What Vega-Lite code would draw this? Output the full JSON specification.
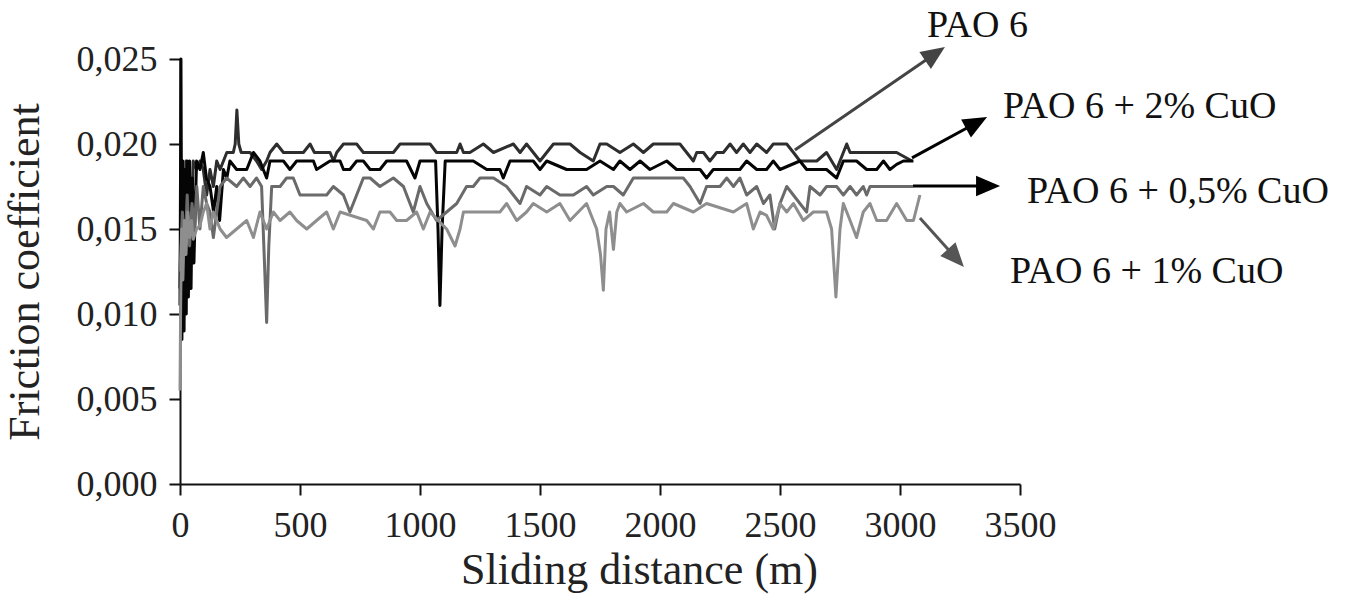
{
"$schema":"https://vega.github.io/schema/vega-lite/v6.json",
"width":840,"height":425,
"autosize":{"type":"none"},
"padding":{"left":180,"top":59,"right":330,"bottom":123},
"background":"white",
"config":{"view":{"stroke":null},"font":"Liberation Serif",
 "axis":{"grid":false,"labelFont":"Liberation Serif","titleFont":"Liberation Serif","labelFontSize":36,"titleFontSize":44,"titleFontWeight":"normal","labelColor":"#222","titleColor":"#222","domainColor":"#111","tickColor":"#111","domainWidth":2,"tickWidth":2,"tickSize":11,"labelFlush":false,"labelOverlap":false}},
"datasets":{
"series":[
{"s":"PAO 6","d":0,"f":0.0115},{"s":"PAO 6","d":5,"f":0.0175},{"s":"PAO 6","d":10,"f":0.011},{"s":"PAO 6","d":15,"f":0.0185},{"s":"PAO 6","d":20,"f":0.012},{"s":"PAO 6","d":25,"f":0.019},{"s":"PAO 6","d":30,"f":0.0125},{"s":"PAO 6","d":38,"f":0.0185},{"s":"PAO 6","d":45,"f":0.014},{"s":"PAO 6","d":55,"f":0.019},{"s":"PAO 6","d":69,"f":0.0185},{"s":"PAO 6","d":83,"f":0.019},{"s":"PAO 6","d":97,"f":0.0185},{"s":"PAO 6","d":111,"f":0.017},{"s":"PAO 6","d":125,"f":0.0185},{"s":"PAO 6","d":139,"f":0.0175},{"s":"PAO 6","d":153,"f":0.019},{"s":"PAO 6","d":167,"f":0.0185},{"s":"PAO 6","d":181,"f":0.019},{"s":"PAO 6","d":195,"f":0.0195},{"s":"PAO 6","d":222,"f":0.0195},{"s":"PAO 6","d":230,"f":0.02},{"s":"PAO 6","d":237,"f":0.022},{"s":"PAO 6","d":245,"f":0.02},{"s":"PAO 6","d":255,"f":0.0195},{"s":"PAO 6","d":292,"f":0.0195},{"s":"PAO 6","d":319,"f":0.019},{"s":"PAO 6","d":340,"f":0.0185},{"s":"PAO 6","d":361,"f":0.019},{"s":"PAO 6","d":375,"f":0.0195},{"s":"PAO 6","d":403,"f":0.02},{"s":"PAO 6","d":431,"f":0.0195},{"s":"PAO 6","d":514,"f":0.0195},{"s":"PAO 6","d":542,"f":0.02},{"s":"PAO 6","d":560,"f":0.0195},{"s":"PAO 6","d":625,"f":0.0195},{"s":"PAO 6","d":640,"f":0.019},{"s":"PAO 6","d":653,"f":0.0195},{"s":"PAO 6","d":681,"f":0.02},{"s":"PAO 6","d":736,"f":0.02},{"s":"PAO 6","d":764,"f":0.0195},{"s":"PAO 6","d":889,"f":0.0195},{"s":"PAO 6","d":917,"f":0.02},{"s":"PAO 6","d":1042,"f":0.02},{"s":"PAO 6","d":1069,"f":0.0195},{"s":"PAO 6","d":1153,"f":0.0195},{"s":"PAO 6","d":1167,"f":0.02},{"s":"PAO 6","d":1181,"f":0.0195},{"s":"PAO 6","d":1208,"f":0.0195},{"s":"PAO 6","d":1264,"f":0.02},{"s":"PAO 6","d":1306,"f":0.0195},{"s":"PAO 6","d":1389,"f":0.02},{"s":"PAO 6","d":1417,"f":0.0195},{"s":"PAO 6","d":1444,"f":0.02},{"s":"PAO 6","d":1472,"f":0.0195},{"s":"PAO 6","d":1500,"f":0.019},{"s":"PAO 6","d":1556,"f":0.02},{"s":"PAO 6","d":1625,"f":0.02},{"s":"PAO 6","d":1667,"f":0.0195},{"s":"PAO 6","d":1722,"f":0.019},{"s":"PAO 6","d":1750,"f":0.02},{"s":"PAO 6","d":1778,"f":0.02},{"s":"PAO 6","d":1833,"f":0.0195},{"s":"PAO 6","d":1889,"f":0.02},{"s":"PAO 6","d":1931,"f":0.0195},{"s":"PAO 6","d":1972,"f":0.02},{"s":"PAO 6","d":2083,"f":0.02},{"s":"PAO 6","d":2111,"f":0.0195},{"s":"PAO 6","d":2139,"f":0.019},{"s":"PAO 6","d":2153,"f":0.0195},{"s":"PAO 6","d":2181,"f":0.0195},{"s":"PAO 6","d":2208,"f":0.019},{"s":"PAO 6","d":2236,"f":0.0195},{"s":"PAO 6","d":2264,"f":0.0195},{"s":"PAO 6","d":2292,"f":0.02},{"s":"PAO 6","d":2319,"f":0.0195},{"s":"PAO 6","d":2347,"f":0.02},{"s":"PAO 6","d":2375,"f":0.0195},{"s":"PAO 6","d":2403,"f":0.02},{"s":"PAO 6","d":2444,"f":0.0195},{"s":"PAO 6","d":2472,"f":0.02},{"s":"PAO 6","d":2528,"f":0.02},{"s":"PAO 6","d":2556,"f":0.0195},{"s":"PAO 6","d":2583,"f":0.019},{"s":"PAO 6","d":2653,"f":0.019},{"s":"PAO 6","d":2694,"f":0.0195},{"s":"PAO 6","d":2736,"f":0.0185},{"s":"PAO 6","d":2778,"f":0.02},{"s":"PAO 6","d":2792,"f":0.0195},{"s":"PAO 6","d":2986,"f":0.0195},{"s":"PAO 6","d":3050,"f":0.019},
{"s":"PAO 6 + 2% CuO","d":0,"f":0.0105},{"s":"PAO 6 + 2% CuO","d":4,"f":0.025},{"s":"PAO 6 + 2% CuO","d":8,"f":0.0085},{"s":"PAO 6 + 2% CuO","d":12,"f":0.019},{"s":"PAO 6 + 2% CuO","d":17,"f":0.009},{"s":"PAO 6 + 2% CuO","d":21,"f":0.0185},{"s":"PAO 6 + 2% CuO","d":26,"f":0.01},{"s":"PAO 6 + 2% CuO","d":30,"f":0.019},{"s":"PAO 6 + 2% CuO","d":35,"f":0.011},{"s":"PAO 6 + 2% CuO","d":40,"f":0.019},{"s":"PAO 6 + 2% CuO","d":46,"f":0.0115},{"s":"PAO 6 + 2% CuO","d":52,"f":0.018},{"s":"PAO 6 + 2% CuO","d":58,"f":0.013},{"s":"PAO 6 + 2% CuO","d":69,"f":0.019},{"s":"PAO 6 + 2% CuO","d":83,"f":0.0185},{"s":"PAO 6 + 2% CuO","d":97,"f":0.0195},{"s":"PAO 6 + 2% CuO","d":110,"f":0.018},{"s":"PAO 6 + 2% CuO","d":125,"f":0.0175},{"s":"PAO 6 + 2% CuO","d":140,"f":0.016},{"s":"PAO 6 + 2% CuO","d":153,"f":0.0175},{"s":"PAO 6 + 2% CuO","d":165,"f":0.0155},{"s":"PAO 6 + 2% CuO","d":181,"f":0.0185},{"s":"PAO 6 + 2% CuO","d":195,"f":0.018},{"s":"PAO 6 + 2% CuO","d":208,"f":0.019},{"s":"PAO 6 + 2% CuO","d":236,"f":0.0185},{"s":"PAO 6 + 2% CuO","d":278,"f":0.0185},{"s":"PAO 6 + 2% CuO","d":306,"f":0.0195},{"s":"PAO 6 + 2% CuO","d":333,"f":0.019},{"s":"PAO 6 + 2% CuO","d":361,"f":0.018},{"s":"PAO 6 + 2% CuO","d":375,"f":0.019},{"s":"PAO 6 + 2% CuO","d":431,"f":0.019},{"s":"PAO 6 + 2% CuO","d":458,"f":0.0185},{"s":"PAO 6 + 2% CuO","d":486,"f":0.019},{"s":"PAO 6 + 2% CuO","d":556,"f":0.019},{"s":"PAO 6 + 2% CuO","d":569,"f":0.0185},{"s":"PAO 6 + 2% CuO","d":625,"f":0.019},{"s":"PAO 6 + 2% CuO","d":667,"f":0.019},{"s":"PAO 6 + 2% CuO","d":681,"f":0.0185},{"s":"PAO 6 + 2% CuO","d":708,"f":0.0185},{"s":"PAO 6 + 2% CuO","d":736,"f":0.019},{"s":"PAO 6 + 2% CuO","d":764,"f":0.019},{"s":"PAO 6 + 2% CuO","d":792,"f":0.0185},{"s":"PAO 6 + 2% CuO","d":833,"f":0.0185},{"s":"PAO 6 + 2% CuO","d":861,"f":0.019},{"s":"PAO 6 + 2% CuO","d":944,"f":0.019},{"s":"PAO 6 + 2% CuO","d":979,"f":0.018},{"s":"PAO 6 + 2% CuO","d":1000,"f":0.019},{"s":"PAO 6 + 2% CuO","d":1065,"f":0.019},{"s":"PAO 6 + 2% CuO","d":1075,"f":0.015},{"s":"PAO 6 + 2% CuO","d":1083,"f":0.0105},{"s":"PAO 6 + 2% CuO","d":1092,"f":0.015},{"s":"PAO 6 + 2% CuO","d":1105,"f":0.019},{"s":"PAO 6 + 2% CuO","d":1222,"f":0.019},{"s":"PAO 6 + 2% CuO","d":1278,"f":0.0185},{"s":"PAO 6 + 2% CuO","d":1333,"f":0.0185},{"s":"PAO 6 + 2% CuO","d":1347,"f":0.018},{"s":"PAO 6 + 2% CuO","d":1375,"f":0.019},{"s":"PAO 6 + 2% CuO","d":1472,"f":0.019},{"s":"PAO 6 + 2% CuO","d":1500,"f":0.0185},{"s":"PAO 6 + 2% CuO","d":1528,"f":0.019},{"s":"PAO 6 + 2% CuO","d":1611,"f":0.0185},{"s":"PAO 6 + 2% CuO","d":1694,"f":0.0185},{"s":"PAO 6 + 2% CuO","d":1750,"f":0.019},{"s":"PAO 6 + 2% CuO","d":1806,"f":0.0185},{"s":"PAO 6 + 2% CuO","d":1833,"f":0.019},{"s":"PAO 6 + 2% CuO","d":1875,"f":0.0185},{"s":"PAO 6 + 2% CuO","d":1917,"f":0.019},{"s":"PAO 6 + 2% CuO","d":1958,"f":0.0185},{"s":"PAO 6 + 2% CuO","d":2028,"f":0.019},{"s":"PAO 6 + 2% CuO","d":2069,"f":0.0185},{"s":"PAO 6 + 2% CuO","d":2167,"f":0.0185},{"s":"PAO 6 + 2% CuO","d":2194,"f":0.018},{"s":"PAO 6 + 2% CuO","d":2222,"f":0.0185},{"s":"PAO 6 + 2% CuO","d":2333,"f":0.0185},{"s":"PAO 6 + 2% CuO","d":2361,"f":0.019},{"s":"PAO 6 + 2% CuO","d":2403,"f":0.0185},{"s":"PAO 6 + 2% CuO","d":2444,"f":0.0185},{"s":"PAO 6 + 2% CuO","d":2472,"f":0.019},{"s":"PAO 6 + 2% CuO","d":2500,"f":0.0185},{"s":"PAO 6 + 2% CuO","d":2583,"f":0.019},{"s":"PAO 6 + 2% CuO","d":2611,"f":0.0185},{"s":"PAO 6 + 2% CuO","d":2694,"f":0.0185},{"s":"PAO 6 + 2% CuO","d":2736,"f":0.018},{"s":"PAO 6 + 2% CuO","d":2764,"f":0.019},{"s":"PAO 6 + 2% CuO","d":2819,"f":0.019},{"s":"PAO 6 + 2% CuO","d":2861,"f":0.0185},{"s":"PAO 6 + 2% CuO","d":2903,"f":0.0185},{"s":"PAO 6 + 2% CuO","d":2931,"f":0.019},{"s":"PAO 6 + 2% CuO","d":2958,"f":0.0185},{"s":"PAO 6 + 2% CuO","d":2986,"f":0.0188},{"s":"PAO 6 + 2% CuO","d":3014,"f":0.019},{"s":"PAO 6 + 2% CuO","d":3056,"f":0.019},
{"s":"PAO 6 + 0,5% CuO","d":0,"f":0.0125},{"s":"PAO 6 + 0,5% CuO","d":10,"f":0.016},{"s":"PAO 6 + 0,5% CuO","d":20,"f":0.0135},{"s":"PAO 6 + 0,5% CuO","d":30,"f":0.017},{"s":"PAO 6 + 0,5% CuO","d":40,"f":0.014},{"s":"PAO 6 + 0,5% CuO","d":50,"f":0.0165},{"s":"PAO 6 + 0,5% CuO","d":60,"f":0.015},{"s":"PAO 6 + 0,5% CuO","d":70,"f":0.0175},{"s":"PAO 6 + 0,5% CuO","d":83,"f":0.015},{"s":"PAO 6 + 0,5% CuO","d":97,"f":0.0175},{"s":"PAO 6 + 0,5% CuO","d":111,"f":0.0165},{"s":"PAO 6 + 0,5% CuO","d":125,"f":0.016},{"s":"PAO 6 + 0,5% CuO","d":139,"f":0.0145},{"s":"PAO 6 + 0,5% CuO","d":153,"f":0.016},{"s":"PAO 6 + 0,5% CuO","d":167,"f":0.0175},{"s":"PAO 6 + 0,5% CuO","d":194,"f":0.018},{"s":"PAO 6 + 0,5% CuO","d":236,"f":0.0175},{"s":"PAO 6 + 0,5% CuO","d":264,"f":0.018},{"s":"PAO 6 + 0,5% CuO","d":292,"f":0.0175},{"s":"PAO 6 + 0,5% CuO","d":319,"f":0.018},{"s":"PAO 6 + 0,5% CuO","d":340,"f":0.0175},{"s":"PAO 6 + 0,5% CuO","d":352,"f":0.013},{"s":"PAO 6 + 0,5% CuO","d":361,"f":0.0095},{"s":"PAO 6 + 0,5% CuO","d":370,"f":0.014},{"s":"PAO 6 + 0,5% CuO","d":382,"f":0.0175},{"s":"PAO 6 + 0,5% CuO","d":417,"f":0.0175},{"s":"PAO 6 + 0,5% CuO","d":444,"f":0.018},{"s":"PAO 6 + 0,5% CuO","d":472,"f":0.018},{"s":"PAO 6 + 0,5% CuO","d":500,"f":0.017},{"s":"PAO 6 + 0,5% CuO","d":611,"f":0.017},{"s":"PAO 6 + 0,5% CuO","d":639,"f":0.0175},{"s":"PAO 6 + 0,5% CuO","d":681,"f":0.017},{"s":"PAO 6 + 0,5% CuO","d":708,"f":0.016},{"s":"PAO 6 + 0,5% CuO","d":736,"f":0.017},{"s":"PAO 6 + 0,5% CuO","d":764,"f":0.018},{"s":"PAO 6 + 0,5% CuO","d":792,"f":0.018},{"s":"PAO 6 + 0,5% CuO","d":833,"f":0.0175},{"s":"PAO 6 + 0,5% CuO","d":889,"f":0.018},{"s":"PAO 6 + 0,5% CuO","d":931,"f":0.0175},{"s":"PAO 6 + 0,5% CuO","d":972,"f":0.016},{"s":"PAO 6 + 0,5% CuO","d":1000,"f":0.0175},{"s":"PAO 6 + 0,5% CuO","d":1028,"f":0.0165},{"s":"PAO 6 + 0,5% CuO","d":1069,"f":0.0155},{"s":"PAO 6 + 0,5% CuO","d":1111,"f":0.016},{"s":"PAO 6 + 0,5% CuO","d":1153,"f":0.0165},{"s":"PAO 6 + 0,5% CuO","d":1194,"f":0.0175},{"s":"PAO 6 + 0,5% CuO","d":1222,"f":0.0175},{"s":"PAO 6 + 0,5% CuO","d":1250,"f":0.018},{"s":"PAO 6 + 0,5% CuO","d":1306,"f":0.018},{"s":"PAO 6 + 0,5% CuO","d":1361,"f":0.0175},{"s":"PAO 6 + 0,5% CuO","d":1417,"f":0.0165},{"s":"PAO 6 + 0,5% CuO","d":1444,"f":0.0175},{"s":"PAO 6 + 0,5% CuO","d":1500,"f":0.017},{"s":"PAO 6 + 0,5% CuO","d":1528,"f":0.0175},{"s":"PAO 6 + 0,5% CuO","d":1583,"f":0.017},{"s":"PAO 6 + 0,5% CuO","d":1639,"f":0.017},{"s":"PAO 6 + 0,5% CuO","d":1694,"f":0.0175},{"s":"PAO 6 + 0,5% CuO","d":1722,"f":0.017},{"s":"PAO 6 + 0,5% CuO","d":1778,"f":0.0175},{"s":"PAO 6 + 0,5% CuO","d":1806,"f":0.0175},{"s":"PAO 6 + 0,5% CuO","d":1847,"f":0.017},{"s":"PAO 6 + 0,5% CuO","d":1889,"f":0.018},{"s":"PAO 6 + 0,5% CuO","d":2097,"f":0.018},{"s":"PAO 6 + 0,5% CuO","d":2125,"f":0.0175},{"s":"PAO 6 + 0,5% CuO","d":2167,"f":0.0165},{"s":"PAO 6 + 0,5% CuO","d":2194,"f":0.0175},{"s":"PAO 6 + 0,5% CuO","d":2250,"f":0.0175},{"s":"PAO 6 + 0,5% CuO","d":2278,"f":0.018},{"s":"PAO 6 + 0,5% CuO","d":2306,"f":0.0175},{"s":"PAO 6 + 0,5% CuO","d":2333,"f":0.018},{"s":"PAO 6 + 0,5% CuO","d":2361,"f":0.017},{"s":"PAO 6 + 0,5% CuO","d":2403,"f":0.0175},{"s":"PAO 6 + 0,5% CuO","d":2431,"f":0.0165},{"s":"PAO 6 + 0,5% CuO","d":2458,"f":0.017},{"s":"PAO 6 + 0,5% CuO","d":2478,"f":0.015},{"s":"PAO 6 + 0,5% CuO","d":2500,"f":0.0165},{"s":"PAO 6 + 0,5% CuO","d":2528,"f":0.0175},{"s":"PAO 6 + 0,5% CuO","d":2583,"f":0.0165},{"s":"PAO 6 + 0,5% CuO","d":2611,"f":0.016},{"s":"PAO 6 + 0,5% CuO","d":2625,"f":0.0175},{"s":"PAO 6 + 0,5% CuO","d":2667,"f":0.017},{"s":"PAO 6 + 0,5% CuO","d":2694,"f":0.0175},{"s":"PAO 6 + 0,5% CuO","d":2736,"f":0.0175},{"s":"PAO 6 + 0,5% CuO","d":2764,"f":0.017},{"s":"PAO 6 + 0,5% CuO","d":2792,"f":0.0175},{"s":"PAO 6 + 0,5% CuO","d":2819,"f":0.017},{"s":"PAO 6 + 0,5% CuO","d":2847,"f":0.0175},{"s":"PAO 6 + 0,5% CuO","d":2861,"f":0.017},{"s":"PAO 6 + 0,5% CuO","d":2875,"f":0.0175},{"s":"PAO 6 + 0,5% CuO","d":3054,"f":0.0175},
{"s":"PAO 6 + 1% CuO","d":0,"f":0.0055},{"s":"PAO 6 + 1% CuO","d":3,"f":0.011},{"s":"PAO 6 + 1% CuO","d":7,"f":0.015},{"s":"PAO 6 + 1% CuO","d":12,"f":0.012},{"s":"PAO 6 + 1% CuO","d":18,"f":0.0155},{"s":"PAO 6 + 1% CuO","d":25,"f":0.0135},{"s":"PAO 6 + 1% CuO","d":32,"f":0.016},{"s":"PAO 6 + 1% CuO","d":40,"f":0.0145},{"s":"PAO 6 + 1% CuO","d":48,"f":0.0155},{"s":"PAO 6 + 1% CuO","d":55,"f":0.0144},{"s":"PAO 6 + 1% CuO","d":69,"f":0.015},{"s":"PAO 6 + 1% CuO","d":83,"f":0.0152},{"s":"PAO 6 + 1% CuO","d":97,"f":0.016},{"s":"PAO 6 + 1% CuO","d":111,"f":0.0165},{"s":"PAO 6 + 1% CuO","d":125,"f":0.015},{"s":"PAO 6 + 1% CuO","d":139,"f":0.016},{"s":"PAO 6 + 1% CuO","d":153,"f":0.0155},{"s":"PAO 6 + 1% CuO","d":167,"f":0.015},{"s":"PAO 6 + 1% CuO","d":194,"f":0.0145},{"s":"PAO 6 + 1% CuO","d":236,"f":0.015},{"s":"PAO 6 + 1% CuO","d":278,"f":0.0155},{"s":"PAO 6 + 1% CuO","d":306,"f":0.0145},{"s":"PAO 6 + 1% CuO","d":333,"f":0.016},{"s":"PAO 6 + 1% CuO","d":361,"f":0.015},{"s":"PAO 6 + 1% CuO","d":389,"f":0.016},{"s":"PAO 6 + 1% CuO","d":417,"f":0.0155},{"s":"PAO 6 + 1% CuO","d":458,"f":0.016},{"s":"PAO 6 + 1% CuO","d":486,"f":0.0155},{"s":"PAO 6 + 1% CuO","d":528,"f":0.015},{"s":"PAO 6 + 1% CuO","d":569,"f":0.0155},{"s":"PAO 6 + 1% CuO","d":611,"f":0.016},{"s":"PAO 6 + 1% CuO","d":639,"f":0.015},{"s":"PAO 6 + 1% CuO","d":667,"f":0.016},{"s":"PAO 6 + 1% CuO","d":778,"f":0.0155},{"s":"PAO 6 + 1% CuO","d":806,"f":0.015},{"s":"PAO 6 + 1% CuO","d":833,"f":0.016},{"s":"PAO 6 + 1% CuO","d":875,"f":0.016},{"s":"PAO 6 + 1% CuO","d":903,"f":0.0155},{"s":"PAO 6 + 1% CuO","d":944,"f":0.0155},{"s":"PAO 6 + 1% CuO","d":986,"f":0.016},{"s":"PAO 6 + 1% CuO","d":1014,"f":0.015},{"s":"PAO 6 + 1% CuO","d":1042,"f":0.016},{"s":"PAO 6 + 1% CuO","d":1111,"f":0.015},{"s":"PAO 6 + 1% CuO","d":1146,"f":0.014},{"s":"PAO 6 + 1% CuO","d":1167,"f":0.015},{"s":"PAO 6 + 1% CuO","d":1181,"f":0.016},{"s":"PAO 6 + 1% CuO","d":1333,"f":0.016},{"s":"PAO 6 + 1% CuO","d":1361,"f":0.0165},{"s":"PAO 6 + 1% CuO","d":1403,"f":0.0155},{"s":"PAO 6 + 1% CuO","d":1444,"f":0.016},{"s":"PAO 6 + 1% CuO","d":1472,"f":0.0165},{"s":"PAO 6 + 1% CuO","d":1528,"f":0.016},{"s":"PAO 6 + 1% CuO","d":1583,"f":0.0165},{"s":"PAO 6 + 1% CuO","d":1625,"f":0.0155},{"s":"PAO 6 + 1% CuO","d":1694,"f":0.0165},{"s":"PAO 6 + 1% CuO","d":1736,"f":0.015},{"s":"PAO 6 + 1% CuO","d":1752,"f":0.0135},{"s":"PAO 6 + 1% CuO","d":1764,"f":0.0114},{"s":"PAO 6 + 1% CuO","d":1775,"f":0.015},{"s":"PAO 6 + 1% CuO","d":1790,"f":0.016},{"s":"PAO 6 + 1% CuO","d":1806,"f":0.0138},{"s":"PAO 6 + 1% CuO","d":1820,"f":0.016},{"s":"PAO 6 + 1% CuO","d":1833,"f":0.0165},{"s":"PAO 6 + 1% CuO","d":1861,"f":0.016},{"s":"PAO 6 + 1% CuO","d":1931,"f":0.0165},{"s":"PAO 6 + 1% CuO","d":1972,"f":0.016},{"s":"PAO 6 + 1% CuO","d":2028,"f":0.016},{"s":"PAO 6 + 1% CuO","d":2056,"f":0.0165},{"s":"PAO 6 + 1% CuO","d":2139,"f":0.016},{"s":"PAO 6 + 1% CuO","d":2194,"f":0.0165},{"s":"PAO 6 + 1% CuO","d":2306,"f":0.016},{"s":"PAO 6 + 1% CuO","d":2361,"f":0.0165},{"s":"PAO 6 + 1% CuO","d":2389,"f":0.015},{"s":"PAO 6 + 1% CuO","d":2417,"f":0.016},{"s":"PAO 6 + 1% CuO","d":2444,"f":0.0158},{"s":"PAO 6 + 1% CuO","d":2472,"f":0.015},{"s":"PAO 6 + 1% CuO","d":2500,"f":0.0165},{"s":"PAO 6 + 1% CuO","d":2528,"f":0.016},{"s":"PAO 6 + 1% CuO","d":2556,"f":0.0165},{"s":"PAO 6 + 1% CuO","d":2597,"f":0.0155},{"s":"PAO 6 + 1% CuO","d":2639,"f":0.016},{"s":"PAO 6 + 1% CuO","d":2694,"f":0.016},{"s":"PAO 6 + 1% CuO","d":2715,"f":0.015},{"s":"PAO 6 + 1% CuO","d":2733,"f":0.011},{"s":"PAO 6 + 1% CuO","d":2750,"f":0.015},{"s":"PAO 6 + 1% CuO","d":2764,"f":0.0165},{"s":"PAO 6 + 1% CuO","d":2792,"f":0.0155},{"s":"PAO 6 + 1% CuO","d":2819,"f":0.0145},{"s":"PAO 6 + 1% CuO","d":2847,"f":0.016},{"s":"PAO 6 + 1% CuO","d":2875,"f":0.0165},{"s":"PAO 6 + 1% CuO","d":2903,"f":0.0155},{"s":"PAO 6 + 1% CuO","d":2944,"f":0.0155},{"s":"PAO 6 + 1% CuO","d":2986,"f":0.0165},{"s":"PAO 6 + 1% CuO","d":3028,"f":0.0155},{"s":"PAO 6 + 1% CuO","d":3056,"f":0.0155},{"s":"PAO 6 + 1% CuO","d":3083,"f":0.017}
],
"arrows":[
{"a":"PAO 6","d":2562,"f":0.01965,"d2":3146,"f2":0.02531},
{"a":"PAO 6 + 2% CuO","d":3050,"f":0.01918,"d2":3319,"f2":0.02125},
{"a":"PAO 6 + 0,5% CuO","d":3054,"f":0.01753,"d2":3367,"f2":0.01753},
{"a":"PAO 6 + 1% CuO","d":3083,"f":0.01565,"d2":3233,"f2":0.01329}
],
"heads":[
{"a":"PAO 6","d":3146,"f":0.02531},
{"a":"PAO 6 + 2% CuO","d":3319,"f":0.02125},
{"a":"PAO 6 + 0,5% CuO","d":3367,"f":0.01753},
{"a":"PAO 6 + 1% CuO","d":3233,"f":0.01329}
],
"labels":[
{"t":"PAO 6","d":3112,"f":0.02629},
{"t":"PAO 6 + 2% CuO","d":3429,"f":0.02153},
{"t":"PAO 6 + 0,5% CuO","d":3529,"f":0.01653},
{"t":"PAO 6 + 1% CuO","d":3458,"f":0.01182}
]
},
"encoding":{
 "x":{"field":"d","type":"quantitative","scale":{"domain":[0,3500],"nice":false,"zero":false},
  "axis":{"title":"Sliding distance (m)","values":[0,500,1000,1500,2000,2500,3000,3500],"format":"d","labelPadding":13,"titlePadding":5,"titleX":459}},
 "y":{"field":"f","type":"quantitative","scale":{"domain":[0,0.025],"nice":false,"zero":false},
  "axis":{"title":"Friction coefficient","values":[0,0.005,0.01,0.015,0.02,0.025],"labelExpr":"replace(format(datum.value,'.3f'),'.',',')","labelPadding":12,"titlePadding":29}}
},
"layer":[
 {"data":{"name":"series"},"mark":{"type":"line","strokeWidth":3,"strokeJoin":"round"},
  "encoding":{"color":{"field":"s","type":"nominal","legend":null,
   "scale":{"domain":["PAO 6 + 1% CuO","PAO 6 + 0,5% CuO","PAO 6","PAO 6 + 2% CuO"],"range":["#8e8e8e","#6a6a6a","#2e2e2e","#050505"]}}}},
 {"data":{"name":"arrows"},"transform":[{"filter":"datum.a==='PAO 6'"}],"mark":{"type":"rule","color":"#444444","strokeWidth":3},"encoding":{"x2":{"field":"d2"},"y2":{"field":"f2"}}},
 {"data":{"name":"arrows"},"transform":[{"filter":"datum.a==='PAO 6 + 2% CuO' || datum.a==='PAO 6 + 0,5% CuO'"}],"mark":{"type":"rule","color":"#000000","strokeWidth":3},"encoding":{"x2":{"field":"d2"},"y2":{"field":"f2"}}},
 {"data":{"name":"arrows"},"transform":[{"filter":"datum.a==='PAO 6 + 1% CuO'"}],"mark":{"type":"rule","color":"#555555","strokeWidth":3},"encoding":{"x2":{"field":"d2"},"y2":{"field":"f2"}}},
 {"data":{"name":"heads"},"transform":[{"filter":"datum.a==='PAO 6'"}],"mark":{"type":"point","shape":"M0,-1L0.85,1L-0.85,1Z","size":576,"filled":true,"opacity":1,"color":"#444444","angle":55.5}},
 {"data":{"name":"heads"},"transform":[{"filter":"datum.a==='PAO 6 + 2% CuO'"}],"mark":{"type":"point","shape":"M0,-1L0.85,1L-0.85,1Z","size":576,"filled":true,"opacity":1,"color":"#000000","angle":61.3}},
 {"data":{"name":"heads"},"transform":[{"filter":"datum.a==='PAO 6 + 0,5% CuO'"}],"mark":{"type":"point","shape":"M0,-1L0.85,1L-0.85,1Z","size":576,"filled":true,"opacity":1,"color":"#000000","angle":90}},
 {"data":{"name":"heads"},"transform":[{"filter":"datum.a==='PAO 6 + 1% CuO'"}],"mark":{"type":"point","shape":"M0,-1L0.85,1L-0.85,1Z","size":576,"filled":true,"opacity":1,"color":"#555555","angle":138.1}},
 {"data":{"name":"labels"},"mark":{"type":"text","align":"left","baseline":"alphabetic","font":"Liberation Serif","fontSize":38,"color":"#111111"},"encoding":{"text":{"field":"t"}}}
]
}
